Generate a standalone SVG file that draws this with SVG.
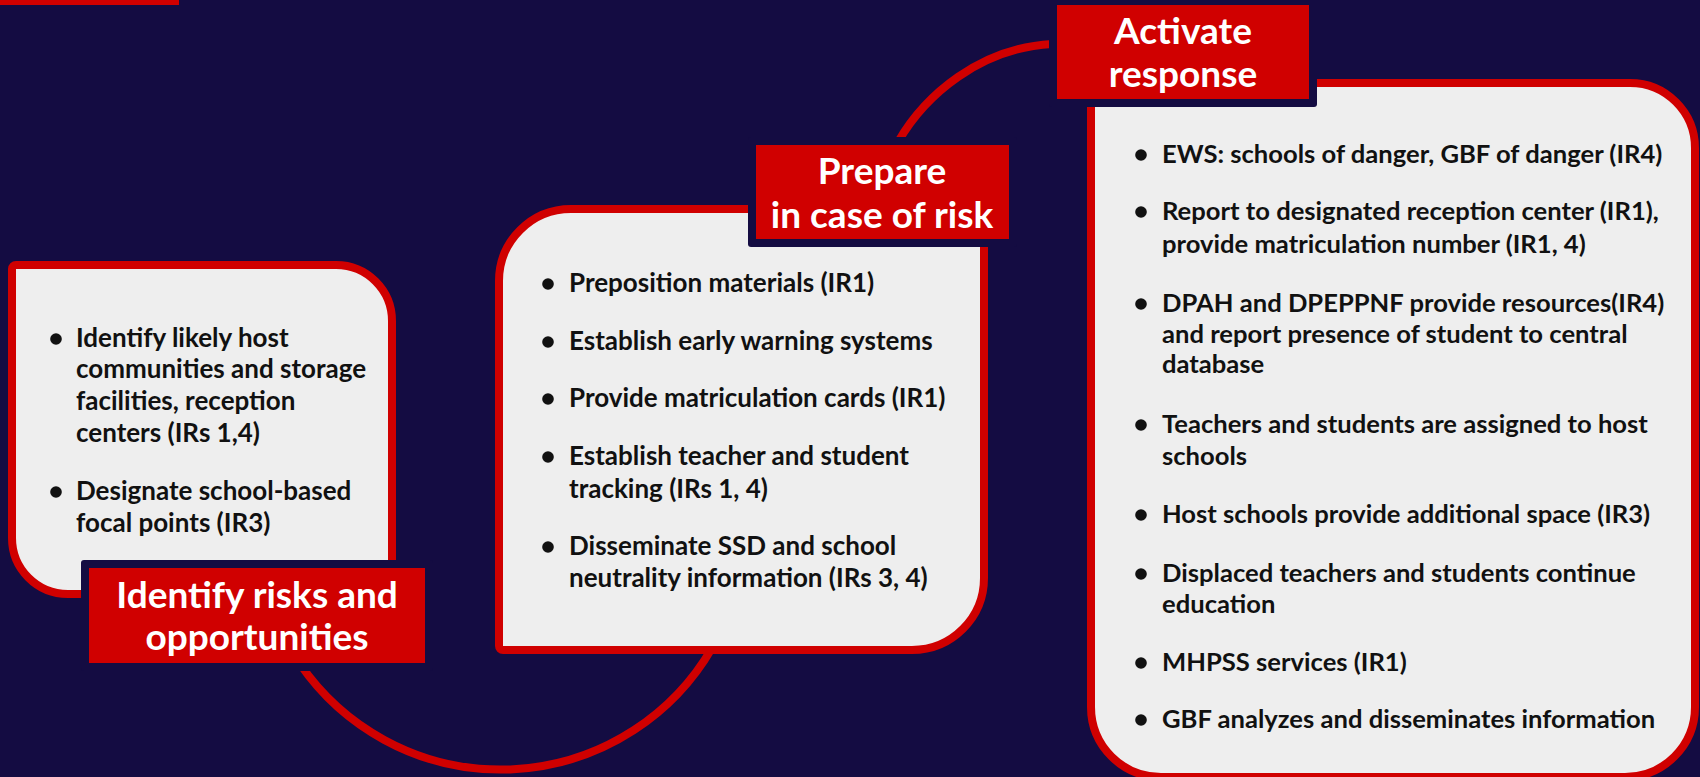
<svg xmlns="http://www.w3.org/2000/svg" width="1700" height="777" viewBox="0 0 1700 777">
<style>
.bg{fill:#140c42}
.box{fill:#eeeeee;stroke:#d00000;stroke-width:8}
.conn{fill:none;stroke:#d00000;stroke-width:8}
.shadow{fill:#140c42}
.lab{fill:#d00000}
.lt{font-family:Lato,"Liberation Sans",sans-serif;font-weight:700;font-size:37px;fill:#ffffff;text-anchor:middle}
.bt{font-family:Lato,"Liberation Sans",sans-serif;font-weight:700;font-size:26px;fill:#111111}
.bt3{font-size:25.6px}
.dot{fill:#111111}
</style>
<rect class="bg" x="0" y="0" width="1700" height="777"/>
<rect x="0" y="0" width="179" height="5" fill="#d00000"/>

<g id="connectors">
<path class="conn" d="M 300 664 A 244 244 0 0 0 712 648"/>
<path class="conn" d="M 898 142 C 925 95, 980 48, 1052 44"/>
</g>

<g id="node-identify">
<path class="box" d="M 16 265 H 336 A 56 56 0 0 1 392 321 V 590 A 4 4 0 0 1 388 594 H 68 A 56 56 0 0 1 12 538 V 269 A 4 4 0 0 1 16 265 Z"/>
<circle class="dot" cx="56" cy="339" r="5.8"/>
<circle class="dot" cx="56" cy="492" r="5.8"/>
<text class="bt" x="76" y="347">Identify likely host</text>
<text class="bt" x="76" y="378">communities and storage</text>
<text class="bt" x="76" y="410">facilities, reception</text>
<text class="bt" x="76" y="442">centers (IRs 1,4)</text>
<text class="bt" x="76" y="500">Designate school-based</text>
<text class="bt" x="76" y="532">focal points (IR3)</text>
<rect class="shadow" x="81" y="560" width="352" height="111" rx="3"/>
<rect class="lab" x="89" y="568" width="336" height="95"/>
<text class="lt" x="257" y="608">Identify risks and</text>
<text class="lt" x="257" y="650">opportunities</text>
</g>

<g id="node-prepare">
<path class="box" d="M 571 209 H 980 A 4 4 0 0 1 984 213 V 578 A 72 72 0 0 1 912 650 H 503 A 4 4 0 0 1 499 646 V 281 A 72 72 0 0 1 571 209 Z"/>
<circle class="dot" cx="548" cy="284" r="5.8"/>
<circle class="dot" cx="548" cy="342" r="5.8"/>
<circle class="dot" cx="548" cy="399" r="5.8"/>
<circle class="dot" cx="548" cy="457" r="5.8"/>
<circle class="dot" cx="548" cy="547" r="5.8"/>
<text class="bt" x="569" y="292">Preposition materials (IR1)</text>
<text class="bt" x="569" y="350">Establish early warning systems</text>
<text class="bt" x="569" y="407">Provide matriculation cards (IR1)</text>
<text class="bt" x="569" y="465">Establish teacher and student</text>
<text class="bt" x="569" y="498">tracking (IRs 1, 4)</text>
<text class="bt" x="569" y="555">Disseminate SSD and school</text>
<text class="bt" x="569" y="587">neutrality information (IRs 3, 4)</text>
<rect class="shadow" x="748" y="137" width="269" height="110" rx="3"/>
<rect class="lab" x="756" y="145" width="253" height="94"/>
<text class="lt" x="882" y="184">Prepare</text>
<text class="lt" x="882" y="228">in case of risk</text>
</g>

<g id="node-activate">
<path class="box" d="M 1095 83 H 1630 A 65 65 0 0 1 1695 148 V 707 A 70 70 0 0 1 1625 777 H 1161 A 70 70 0 0 1 1091 707 V 87 A 4 4 0 0 1 1095 83 Z"/>
<circle class="dot" cx="1141" cy="155" r="5.8"/>
<circle class="dot" cx="1141" cy="212" r="5.8"/>
<circle class="dot" cx="1141" cy="304" r="5.8"/>
<circle class="dot" cx="1141" cy="425" r="5.8"/>
<circle class="dot" cx="1141" cy="515" r="5.8"/>
<circle class="dot" cx="1141" cy="574" r="5.8"/>
<circle class="dot" cx="1141" cy="663" r="5.8"/>
<circle class="dot" cx="1141" cy="720" r="5.8"/>
<text class="bt bt3" x="1162" y="163">EWS: schools of danger, GBF of danger (IR4)</text>
<text class="bt bt3" x="1162" y="220">Report to designated reception center (IR1),</text>
<text class="bt bt3" x="1162" y="253">provide matriculation number (IR1, 4)</text>
<text class="bt bt3" x="1162" y="312">DPAH and DPEPPNF provide resources(IR4)</text>
<text class="bt bt3" x="1162" y="343">and report presence of student to central</text>
<text class="bt bt3" x="1162" y="373">database</text>
<text class="bt bt3" x="1162" y="433">Teachers and students are assigned to host</text>
<text class="bt bt3" x="1162" y="465">schools</text>
<text class="bt bt3" x="1162" y="523">Host schools provide additional space (IR3)</text>
<text class="bt bt3" x="1162" y="582">Displaced teachers and students continue</text>
<text class="bt bt3" x="1162" y="613">education</text>
<text class="bt bt3" x="1162" y="671">MHPSS services (IR1)</text>
<text class="bt bt3" x="1162" y="728">GBF analyzes and disseminates information</text>
<rect class="shadow" x="1049" y="-3" width="268" height="110" rx="3"/>
<rect class="lab" x="1057" y="5" width="252" height="94"/>
<text class="lt" x="1183" y="44">Activate</text>
<text class="lt" x="1183" y="87">response</text>
</g>
</svg>
